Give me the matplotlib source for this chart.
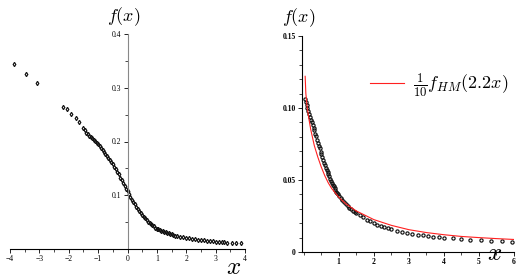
import numpy as np
import matplotlib
matplotlib.use("Agg")
import matplotlib.pyplot as plt
from matplotlib.ticker import MultipleLocator, FixedLocator

plt.rcParams['mathtext.fontset'] = 'cm'

### Data: left panel ###
left_x = [-3.85, -3.45, -3.07, -2.20, -2.06, -1.93, -1.74, -1.65, -1.50, -1.44,
          -1.40, -1.35, -1.30, -1.25, -1.20, -1.15, -1.10, -1.05, -1.00, -0.95,
          -0.90, -0.85, -0.80, -0.75, -0.70, -0.65, -0.60, -0.55, -0.50, -0.45,
          -0.40, -0.35, -0.30, -0.25, -0.20, -0.15, -0.10, -0.05, 0.00, 0.05,
          0.10, 0.15, 0.20, 0.25, 0.30, 0.35, 0.40, 0.45, 0.50, 0.55,
          0.60, 0.65, 0.70, 0.75, 0.80, 0.85, 0.90, 0.95, 1.00, 1.05,
          1.10, 1.15, 1.20, 1.25, 1.30, 1.35, 1.40, 1.45, 1.50, 1.55,
          1.60, 1.70, 1.80, 1.90, 2.00, 2.10, 2.20, 2.30, 2.40, 2.50,
          2.60, 2.70, 2.80, 2.90, 3.00, 3.10, 3.20, 3.30, 3.40, 3.55,
          3.70, 3.85]
left_y = [0.344, 0.325, 0.308, 0.265, 0.261, 0.252, 0.243, 0.236, 0.226, 0.221,
          0.216, 0.214, 0.211, 0.209, 0.206, 0.203, 0.201, 0.198, 0.195, 0.191,
          0.188, 0.184, 0.180, 0.177, 0.173, 0.170, 0.166, 0.162, 0.158, 0.153,
          0.149, 0.144, 0.139, 0.133, 0.128, 0.123, 0.118, 0.112, 0.107, 0.102,
          0.097, 0.092, 0.088, 0.083, 0.079, 0.075, 0.071, 0.067, 0.064, 0.060,
          0.057, 0.054, 0.051, 0.049, 0.046, 0.044, 0.042, 0.040, 0.038, 0.037,
          0.035, 0.034, 0.033, 0.032, 0.031, 0.030, 0.029, 0.028, 0.027, 0.026,
          0.025, 0.024, 0.023, 0.022, 0.021, 0.020, 0.019, 0.018, 0.0175, 0.017,
          0.0163, 0.0156, 0.015, 0.0143, 0.0137, 0.0133, 0.0128, 0.0124, 0.012, 0.0115,
          0.011, 0.0106]

### Data: right panel ###
right_x = [0.03, 0.05, 0.08, 0.10, 0.13, 0.15, 0.18, 0.20, 0.23, 0.25,
           0.28, 0.30, 0.33, 0.35, 0.38, 0.40, 0.43, 0.45, 0.48, 0.50,
           0.53, 0.55, 0.58, 0.60, 0.63, 0.65, 0.68, 0.70, 0.73, 0.75,
           0.78, 0.80, 0.83, 0.85, 0.88, 0.90, 0.93, 0.95, 0.98, 1.00,
           1.05, 1.10, 1.15, 1.20, 1.25, 1.30, 1.35, 1.40, 1.45, 1.50,
           1.60, 1.70, 1.80, 1.90, 2.00, 2.10, 2.20, 2.30, 2.40, 2.50,
           2.65, 2.80, 2.95, 3.10, 3.25, 3.40, 3.55, 3.70, 3.85, 4.00,
           4.25, 4.50, 4.75, 5.05, 5.35, 5.65, 5.95]
right_y = [0.106, 0.1045, 0.102, 0.100, 0.098, 0.096, 0.094, 0.092, 0.090, 0.088,
           0.086, 0.0845, 0.082, 0.0805, 0.078, 0.076, 0.0735, 0.072, 0.0695, 0.068,
           0.066, 0.064, 0.062, 0.0605, 0.0585, 0.057, 0.0555, 0.054, 0.0525, 0.051,
           0.0495, 0.048, 0.0467, 0.0455, 0.0443, 0.0432, 0.042, 0.041, 0.040, 0.0392,
           0.0375, 0.036, 0.0345, 0.0332, 0.032, 0.0308, 0.0298, 0.0288, 0.0278, 0.027,
           0.0255, 0.024, 0.0225, 0.0212, 0.020, 0.019, 0.018, 0.0172, 0.0164, 0.0157,
           0.0148, 0.014, 0.0132, 0.0126, 0.012, 0.0115, 0.0111, 0.0107, 0.0104, 0.010,
           0.0095, 0.009, 0.0085, 0.008, 0.0077, 0.0074, 0.0072]

hm_x = [0.04, 0.06, 0.10, 0.15, 0.20, 0.30, 0.40, 0.50, 0.60, 0.70,
        0.80, 1.00, 1.20, 1.50, 2.00, 2.50, 3.00, 3.50, 4.00, 4.50,
        5.00, 5.50, 6.00]
hm_y = [0.122, 0.110, 0.100, 0.092, 0.085, 0.074, 0.066, 0.059, 0.053, 0.048,
        0.044, 0.038, 0.0335, 0.0285, 0.0225, 0.0185, 0.0155, 0.0135, 0.0120, 0.0108,
        0.0100, 0.0093, 0.0087]
hm_label = r'$\frac{1}{10}f_{HM}(2.2x)$'

tick_font = dict(family=['Liberation Serif', 'DejaVu Serif'], size=5.5)

fig = plt.figure(figsize=(5.18, 2.78), dpi=100)

### Left panel ###
ax1 = fig.add_axes([10 / 518, 29 / 278, 235 / 518, 215 / 278])
ax1.plot(left_x, left_y, linestyle='none', marker='d', markersize=2.2,
         markerfacecolor='none', markeredgecolor='#111111', markeredgewidth=0.85)
ax1.set_xlim(-4, 4)
ax1.set_ylim(0, 0.4)
ax1.spines['top'].set_visible(False)
ax1.spines['right'].set_visible(False)
ax1.spines['left'].set_position(('data', 0))
ax1.spines['left'].set_color('#888888')
ax1.spines['left'].set_linewidth(0.8)
ax1.spines['bottom'].set_linewidth(0.8)
ax1.xaxis.set_major_locator(MultipleLocator(1))
ax1.xaxis.set_minor_locator(MultipleLocator(0.5))
ax1.yaxis.set_major_locator(FixedLocator([0.1, 0.2, 0.3, 0.4]))
ax1.yaxis.set_minor_locator(MultipleLocator(0.05))
ax1.set_yticklabels(['0.1', '0.2', '0.3', '0.4'])
ax1.tick_params(which='major', length=3, width=0.6, pad=1.5)
ax1.tick_params(which='minor', length=2, width=0.5)
for lab in ax1.get_xticklabels() + ax1.get_yticklabels():
    lab.set_fontfamily(tick_font['family'])
    lab.set_fontsize(tick_font['size'])
ax1.text(-0.12, 0.433, r'$f(x)$', ha='center', va='center', fontsize=13)
ax1.text(3.62, -0.033, r'$x$', ha='center', va='center', fontsize=18)

### Right panel ###
ax2 = fig.add_axes([302 / 518, 26 / 278, 212 / 518, 216 / 278])
ax2.plot(right_x, right_y, linestyle='none', marker='o', markersize=2.3,
         markerfacecolor='none', markeredgecolor='#111111', markeredgewidth=0.85)
ax2.plot(hm_x, hm_y, color='#ff2020', linewidth=0.8, label=hm_label)
ax2.set_xlim(-0.05, 6)
ax2.set_ylim(0, 0.15)
ax2.spines['top'].set_visible(False)
ax2.spines['right'].set_visible(False)
ax2.spines['left'].set_linewidth(0.8)
ax2.spines['bottom'].set_linewidth(0.8)
ax2.xaxis.set_major_locator(FixedLocator([1, 2, 3, 4, 5, 6]))
ax2.xaxis.set_minor_locator(MultipleLocator(0.5))
ax2.yaxis.set_major_locator(FixedLocator([0, 0.05, 0.10, 0.15]))
ax2.yaxis.set_minor_locator(MultipleLocator(0.01))
ax2.set_yticklabels(['0', '0.05', '0.10', '0.15'])
ax2.tick_params(which='major', length=3, width=0.6, pad=1.5)
ax2.tick_params(which='minor', length=2, width=0.5)
for lab in ax2.get_xticklabels() + ax2.get_yticklabels():
    lab.set_fontfamily(tick_font['family'])
    lab.set_fontsize(tick_font['size'])
    lab.set_fontweight('bold')
ax2.legend(loc='upper right', bbox_to_anchor=(1.05, 0.91), frameon=False,
           fontsize=13, handlelength=1.9, handletextpad=0.5)
ax2.text(-0.14, 0.163, r'$f(x)$', ha='center', va='center', fontsize=13)
ax2.text(5.45, -0.001, r'$x$', ha='center', va='center', fontsize=18)

fig.savefig('out.png', dpi=100)
